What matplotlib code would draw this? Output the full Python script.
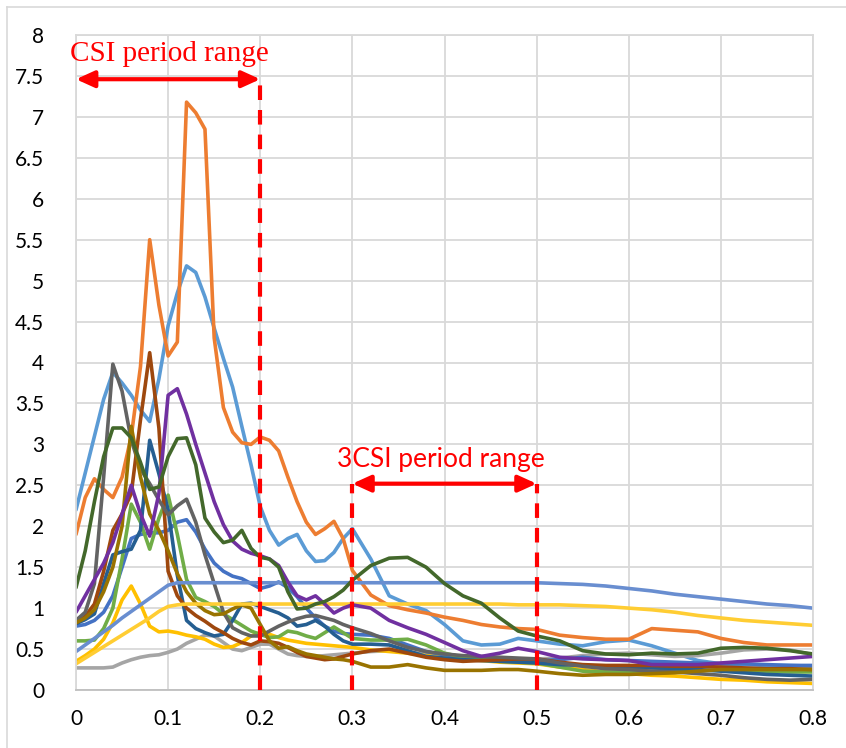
import matplotlib
matplotlib.use('Agg')
import matplotlib.pyplot as plt
from matplotlib.ticker import MultipleLocator, FuncFormatter
from matplotlib.lines import Line2D

# periods (s)
period = [0.00, 0.01, 0.02, 0.03, 0.04, 0.05, 0.06, 0.07, 0.08, 0.09, 0.10,
          0.11, 0.12, 0.13, 0.14, 0.15, 0.16, 0.17, 0.18, 0.19, 0.20,
          0.21, 0.22, 0.23, 0.24, 0.25, 0.26, 0.27, 0.28, 0.29, 0.30,
          0.32, 0.34, 0.36, 0.38, 0.40, 0.42, 0.44, 0.46, 0.48, 0.50,
          0.525, 0.55, 0.575, 0.60, 0.625, 0.65, 0.675, 0.70, 0.725, 0.75, 0.775, 0.80]

# spectral ratios, one list per record
rec_lightblue = [2.20, 2.65, 3.10, 3.55, 3.88, 3.75, 3.60, 3.42, 3.28, 3.80, 4.45,
                 4.85, 5.18, 5.10, 4.80, 4.42, 4.05, 3.70, 3.22, 2.75, 2.24,
                 1.95, 1.77, 1.85, 1.90, 1.70, 1.57, 1.58, 1.68, 1.85, 1.97,
                 1.60, 1.15, 1.05, 0.97, 0.80, 0.60, 0.55, 0.56, 0.63, 0.60,
                 0.56, 0.54, 0.59, 0.61, 0.54, 0.45, 0.36, 0.32, 0.31, 0.30, 0.30, 0.29]
rec_orange = [1.90, 2.35, 2.58, 2.45, 2.35, 2.60, 3.10, 3.95, 5.50, 4.70, 4.08,
              4.25, 7.18, 7.05, 6.85, 4.30, 3.45, 3.15, 3.02, 3.00, 3.09,
              3.05, 2.92, 2.60, 2.30, 2.05, 1.90, 1.97, 2.06, 1.85, 1.46,
              1.16, 1.03, 0.98, 0.94, 0.89, 0.85, 0.80, 0.77, 0.75, 0.74,
              0.67, 0.64, 0.62, 0.62, 0.75, 0.73, 0.71, 0.63, 0.58, 0.55, 0.55, 0.55]
rec_gray = [0.27, 0.27, 0.27, 0.27, 0.28, 0.33, 0.37, 0.40, 0.42, 0.43, 0.46,
            0.50, 0.57, 0.62, 0.67, 0.66, 0.58, 0.50, 0.48, 0.52, 0.56,
            0.56, 0.50, 0.44, 0.42, 0.41, 0.41, 0.42, 0.43, 0.44, 0.45,
            0.47, 0.48, 0.46, 0.44, 0.42, 0.40, 0.39, 0.38, 0.38, 0.38,
            0.39, 0.42, 0.44, 0.45, 0.43, 0.41, 0.42, 0.45, 0.49, 0.50, 0.49, 0.43]
rec_gold = [0.35, 0.42, 0.50, 0.62, 0.82, 1.10, 1.27, 1.05, 0.78, 0.71, 0.72,
            0.70, 0.67, 0.65, 0.62, 0.56, 0.52, 0.53, 0.58, 0.66, 0.70,
            0.68, 0.64, 0.61, 0.59, 0.57, 0.56, 0.55, 0.54, 0.53, 0.52,
            0.49, 0.47, 0.45, 0.42, 0.40, 0.38, 0.36, 0.34, 0.33, 0.32,
            0.28, 0.25, 0.22, 0.20, 0.18, 0.17, 0.15, 0.13, 0.12, 0.10, 0.09, 0.08]
rec_blue = [0.78, 0.80, 0.85, 0.95, 1.15, 1.50, 1.85, 1.90, 1.92, 1.92, 1.95,
            2.05, 2.08, 1.93, 1.72, 1.55, 1.45, 1.39, 1.36, 1.30, 1.24,
            1.27, 1.32, 1.25, 1.14, 1.00, 0.88, 0.78, 0.72, 0.69, 0.68,
            0.67, 0.63, 0.55, 0.47, 0.43, 0.41, 0.39, 0.38, 0.37, 0.36,
            0.37, 0.40, 0.37, 0.36, 0.35, 0.34, 0.33, 0.32, 0.32, 0.31, 0.30, 0.30]
rec_green = [0.60, 0.60, 0.61, 0.75, 1.00, 1.60, 2.27, 2.05, 1.72, 2.10, 2.38,
             1.90, 1.35, 1.13, 1.08, 1.02, 0.93, 0.86, 0.79, 0.72, 0.68,
             0.64, 0.65, 0.72, 0.70, 0.66, 0.63, 0.70, 0.77, 0.70, 0.63,
             0.61, 0.61, 0.62, 0.55, 0.45, 0.40, 0.37, 0.35, 0.34, 0.33,
             0.28, 0.23, 0.22, 0.22, 0.23, 0.24, 0.24, 0.24, 0.23, 0.23, 0.22, 0.22]
rec_darkblue = [0.81, 0.86, 0.93, 1.30, 1.65, 1.69, 1.72, 1.95, 3.05, 2.64, 2.20,
                1.40, 0.85, 0.75, 0.70, 0.66, 0.68, 0.85, 1.05, 1.06, 1.02,
                0.98, 0.94, 0.88, 0.78, 0.80, 0.85, 0.78, 0.68, 0.60, 0.56,
                0.56, 0.55, 0.48, 0.41, 0.39, 0.37, 0.36, 0.35, 0.34, 0.33,
                0.31, 0.30, 0.29, 0.28, 0.27, 0.26, 0.25, 0.23, 0.21, 0.19, 0.18, 0.17]
rec_brown = [0.82, 0.90, 1.05, 1.45, 1.95, 2.15, 2.40, 3.30, 4.12, 3.20, 1.45,
             1.15, 1.00, 0.91, 0.84, 0.76, 0.70, 0.63, 0.58, 0.55, 0.60,
             0.59, 0.57, 0.52, 0.46, 0.41, 0.39, 0.37, 0.38, 0.41, 0.44,
             0.48, 0.50, 0.45, 0.40, 0.37, 0.35, 0.36, 0.37, 0.38, 0.38,
             0.34, 0.31, 0.30, 0.30, 0.30, 0.29, 0.29, 0.28, 0.27, 0.26, 0.26, 0.25]
rec_darkgray = [0.85, 0.95, 1.30, 2.60, 3.98, 3.65, 3.05, 2.70, 2.52, 2.32, 2.14,
                2.25, 2.33, 2.05, 1.65, 1.30, 0.95, 0.76, 0.70, 0.66, 0.66,
                0.72, 0.78, 0.83, 0.87, 0.90, 0.91, 0.88, 0.85, 0.80, 0.76,
                0.69, 0.60, 0.52, 0.47, 0.44, 0.42, 0.41, 0.40, 0.39, 0.38,
                0.33, 0.29, 0.26, 0.25, 0.23, 0.22, 0.20, 0.18, 0.15, 0.13, 0.12, 0.13]
rec_darkgold = [0.82, 0.88, 0.98, 1.20, 1.50, 2.00, 3.22, 2.60, 2.15, 1.95, 1.70,
                1.42, 1.20, 1.06, 0.97, 0.92, 0.93, 0.99, 1.04, 1.00, 0.80,
                0.60, 0.51, 0.53, 0.48, 0.44, 0.42, 0.40, 0.38, 0.37, 0.35,
                0.28, 0.28, 0.31, 0.27, 0.24, 0.24, 0.24, 0.25, 0.25, 0.23,
                0.20, 0.18, 0.19, 0.19, 0.20, 0.21, 0.23, 0.25, 0.25, 0.25, 0.25, 0.25]
rec_paleblue = [0.47, 0.55, 0.63, 0.71, 0.79, 0.88, 0.96, 1.04, 1.12, 1.20, 1.28,
                1.31, 1.31, 1.31, 1.31, 1.31, 1.31, 1.31, 1.31, 1.31, 1.31,
                1.31, 1.31, 1.31, 1.31, 1.31, 1.31, 1.31, 1.31, 1.31, 1.31,
                1.31, 1.31, 1.31, 1.31, 1.31, 1.31, 1.31, 1.31, 1.31, 1.31,
                1.30, 1.29, 1.27, 1.24, 1.21, 1.17, 1.14, 1.11, 1.08, 1.05, 1.03, 1.00]
rec_paleyellow = [0.32, 0.39, 0.46, 0.53, 0.60, 0.67, 0.74, 0.81, 0.88, 0.96, 1.02,
                  1.04, 1.05, 1.05, 1.05, 1.05, 1.05, 1.05, 1.05, 1.05, 1.05,
                  1.05, 1.05, 1.05, 1.05, 1.05, 1.05, 1.05, 1.05, 1.05, 1.05,
                  1.05, 1.05, 1.05, 1.05, 1.05, 1.05, 1.05, 1.05, 1.04, 1.04,
                  1.04, 1.03, 1.02, 1.00, 0.98, 0.95, 0.91, 0.88, 0.85, 0.83, 0.81, 0.79]
rec_purple = [0.95, 1.15, 1.35, 1.55, 1.80, 2.15, 2.50, 2.15, 1.88, 2.40, 3.60,
              3.68, 3.37, 3.00, 2.65, 2.30, 2.02, 1.82, 1.72, 1.67, 1.64,
              1.60, 1.52, 1.32, 1.15, 1.10, 1.15, 1.05, 0.94, 1.00, 1.04,
              1.00, 0.85, 0.76, 0.68, 0.58, 0.48, 0.41, 0.45, 0.51, 0.47,
              0.40, 0.38, 0.37, 0.36, 0.31, 0.31, 0.31, 0.33, 0.35, 0.37, 0.39, 0.41]
rec_darkgreen = [1.25, 1.70, 2.30, 2.85, 3.20, 3.20, 3.08, 2.78, 2.45, 2.48, 2.85,
                 3.07, 3.08, 2.75, 2.10, 1.93, 1.80, 1.83, 1.95, 1.73, 1.62,
                 1.60, 1.50, 1.20, 0.99, 1.00, 1.05, 1.08, 1.14, 1.22, 1.34,
                 1.52, 1.61, 1.62, 1.50, 1.30, 1.15, 1.06, 0.88, 0.72, 0.66,
                 0.60, 0.48, 0.44, 0.43, 0.45, 0.44, 0.45, 0.51, 0.52, 0.51, 0.48, 0.44]

records = [rec_lightblue, rec_orange, rec_gray, rec_gold, rec_blue, rec_green,
           rec_darkblue, rec_brown, rec_darkgray, rec_darkgold, rec_paleblue,
           rec_paleyellow, rec_purple, rec_darkgreen]
colors = ['#5B9BD5', '#ED7D31', '#A5A5A5', '#FFC000', '#4472C4', '#70AD47',
          '#255E91', '#9E480E', '#636363', '#997300', '#698ED0',
          '#FFCD33', '#7030A0', '#43682B']

# period ranges marked on the chart
csi_range = (0.0, 0.2)
csi_arrow_y = 7.46
csi3_range = (0.3, 0.5)
csi3_arrow_y = 2.52

fig = plt.figure(figsize=(8.46, 7.48), dpi=100)
ax = fig.add_axes([76 / 846, 58 / 748, 737 / 846, 655 / 748])

for y, c in zip(records, colors):
    ax.plot(period, y, color=c, lw=2.6, solid_joinstyle='round', solid_capstyle='round')

ax.set_xlim(0, 0.8)
ax.set_ylim(0, 8)
ax.xaxis.set_major_locator(MultipleLocator(0.1))
ax.yaxis.set_major_locator(MultipleLocator(0.5))
fmt = FuncFormatter(lambda v, p: '%g' % round(v, 2))
ax.xaxis.set_major_formatter(fmt)
ax.yaxis.set_major_formatter(fmt)
ax.grid(True, color='#D9D9D9', lw=1.3)
ax.set_axisbelow(True)
for s in ax.spines.values():
    s.set_color('#D9D9D9')
    s.set_linewidth(1.3)
ax.spines['bottom'].set_color('#BFBFBF')
ax.tick_params(length=0, labelsize=15, labelcolor='black')
ax.tick_params(axis='y', pad=23)
ax.tick_params(axis='x', pad=14)
for lab in ax.get_xticklabels() + ax.get_yticklabels():
    lab.set_family(['Lato', 'DejaVu Sans'])

# CSI period range
red = '#FF0000'
ax.vlines(csi_range[1], 0, csi_arrow_y, colors=red, lw=3, linestyles=(0, (3.5, 2.4)), zorder=5)
ax.annotate('', xy=(csi_range[0], csi_arrow_y), xytext=(csi_range[1], csi_arrow_y),
            arrowprops=dict(arrowstyle='<|-|>,head_length=0.55,head_width=0.25',
                            color=red, lw=3, mutation_scale=20, shrinkA=0, shrinkB=0),
            zorder=6, annotation_clip=False)
ax.text(-0.007, 7.68, 'CSI period range', color=red, fontsize=21,
        family='Liberation Serif', ha='left', va='baseline', zorder=6)

# 3CSI period range
ax.vlines(list(csi3_range), 0, csi3_arrow_y, colors=red, lw=3, linestyles=(0, (3.5, 2.4)), zorder=5)
ax.annotate('', xy=(csi3_range[0], csi3_arrow_y), xytext=(csi3_range[1], csi3_arrow_y),
            arrowprops=dict(arrowstyle='<|-|>,head_length=0.55,head_width=0.25',
                            color=red, lw=3, mutation_scale=20, shrinkA=0, shrinkB=0),
            zorder=6)
ax.text(0.396, 2.72, '3CSI period range', color=red, fontsize=19,
        family=['Lato', 'DejaVu Sans'], ha='center', va='baseline', zorder=6)

# chart area border (top and left visible)
fig.add_artist(Line2D([6.5 / 846, 1], [1 - 6.5 / 748] * 2, color='#D9D9D9', lw=1.2))
fig.add_artist(Line2D([6.5 / 846] * 2, [0, 1 - 6.5 / 748], color='#D9D9D9', lw=1.2))

fig.savefig('out.png', dpi=100)
